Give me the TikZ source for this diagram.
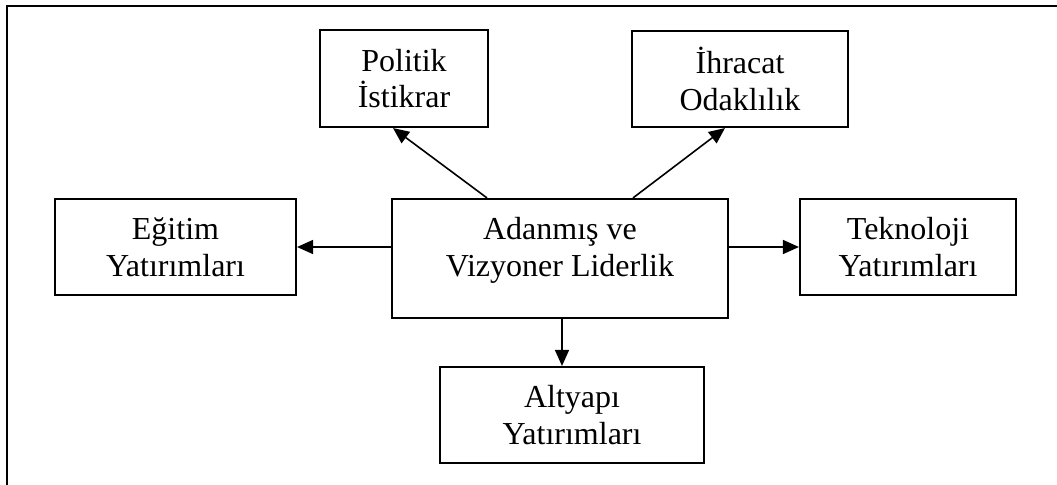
\documentclass[tikz,border=0pt]{standalone}
\usepackage{fontspec}
\setmainfont{Liberation Serif}
\usetikzlibrary{arrows.meta,calc}
\tikzset{
  box/.style={draw, line width=1.6pt, rectangle, inner sep=0pt, align=center,
    font=\fontsize{24}{27.6}\selectfont},
  txt/.style={inner sep=0pt, align=center, font=\fontsize{24}{27.6}\selectfont},
  arr/.style={line width=1.2pt, -{Triangle[length=12pt,width=10.5pt]}},
  frame/.style={line width=1.7pt}
}
\begin{document}
\begin{tikzpicture}[x=0.75pt,y=-0.75pt]
\useasboundingbox (0,0) rectangle (1057,485);
\coordinate (fr1) at (1057,6);
\coordinate (fr2) at (7,6);
\coordinate (fr3) at (7,485);
\draw[frame] (fr1) -- (fr2) -- (fr3);

\node[box, minimum width=168*0.75pt, minimum height=97*0.75pt] (pol) at (404,78.5) {Politik\\İstikrar};
\node[box, minimum width=216*0.75pt, minimum height=96*0.75pt] (ihr) at (740,79) {İhracat\\Odaklılık};
\node[box, minimum width=336*0.75pt, minimum height=119*0.75pt] (lead) at (560,258.5) {};
\node[txt] (leadtext) at (560,250.5) {Adanmış ve\\Vizyoner Liderlik};
\node[box, minimum width=241*0.75pt, minimum height=96*0.75pt] (egi) at (175.5,247) {Eğitim\\Yatırımları};
\node[box, minimum width=216*0.75pt, minimum height=96*0.75pt] (tek) at (908,247) {Teknoloji\\Yatırımları};
\node[box, minimum width=264*0.75pt, minimum height=96*0.75pt] (alt) at (572,415) {Altyapı\\Yatırımları};

\draw[arr] ([xshift=-73*0.75pt]lead.north) -- ([xshift=-11*0.75pt]pol.south);
\draw[arr] ([xshift=73*0.75pt]lead.north) -- ([xshift=-15*0.75pt]ihr.south);
\draw[arr] (lead.west |- egi.east) -- (egi.east);
\draw[arr] (lead.east |- tek.west) -- (tek.west);
\draw[arr] ([xshift=2*0.75pt]lead.south) -- ([xshift=2*0.75pt]lead.south |- alt.north);
\end{tikzpicture}
\end{document}
